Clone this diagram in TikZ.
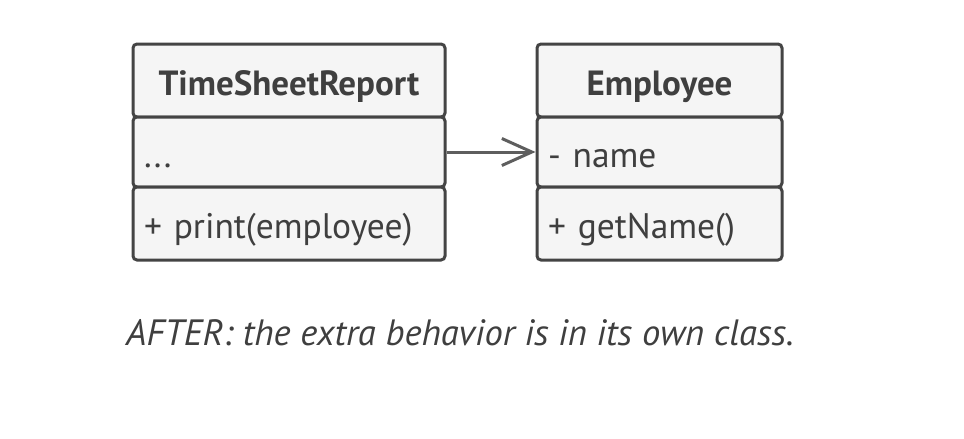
\documentclass[tikz,border=0pt]{standalone}
\usepackage{fontspec}
\setmainfont{PT Sans}
\usetikzlibrary{arrows.meta}
\definecolor{edge}{HTML}{444444}
\definecolor{boxfill}{HTML}{F5F5F5}
\definecolor{txt}{HTML}{3F3F3F}
\definecolor{arrowc}{HTML}{5E5E5E}
\tikzset{
  comp/.style={draw=edge, fill=boxfill, line width=3pt, rounded corners=4pt,
    minimum height=#1, inner xsep=11pt, inner ysep=0pt, text=txt,
    text height=30pt, text depth=0pt, font=\fontsize{35.5}{40}\selectfont},
  headcomp/.style={comp=73pt, font=\fontsize{35}{40}\selectfont\bfseries, align=center},
  leftw/.style={text width=#1, align=left},
  cwid/.style={minimum width=#1},
}
\begin{document}
\begin{tikzpicture}[x=1pt,y=-1pt]
\useasboundingbox (0,0) rectangle (964,439);
% TimeSheetReport
\node[headcomp, cwid=312pt, text width=290pt] (tsh) at (289,80.5) {TimeSheetReport};
\node[comp=70pt, cwid=312pt, leftw=290pt] (tsa) at (289,152) {...};
\node[comp=73pt, cwid=312pt, leftw=290pt] (tsm) at (289,223.5) {+ print(employee)};
% Employee
\node[headcomp, cwid=245pt, text width=223pt] (eh) at (659.5,80.5) {Employee};
\node[comp=70pt, cwid=245pt, leftw=223pt] (ea) at (659.5,152) {- name};
\node[comp=73pt, cwid=245pt, leftw=223pt] (em) at (659.5,223.5) {+ getName()};
% association
\draw[arrowc, line width=3pt, -{Straight Barb[length=30pt,width=27pt,line width=3pt]}] (tsa.east) -- (ea.west);
% caption
\node[anchor=base west, inner sep=0pt, text=txt, font=\fontsize{36.6}{42}\selectfont\itshape] (cap) at (126,345) {AFTER: the extra behavior is in its own class.};
\end{tikzpicture}
\end{document}
